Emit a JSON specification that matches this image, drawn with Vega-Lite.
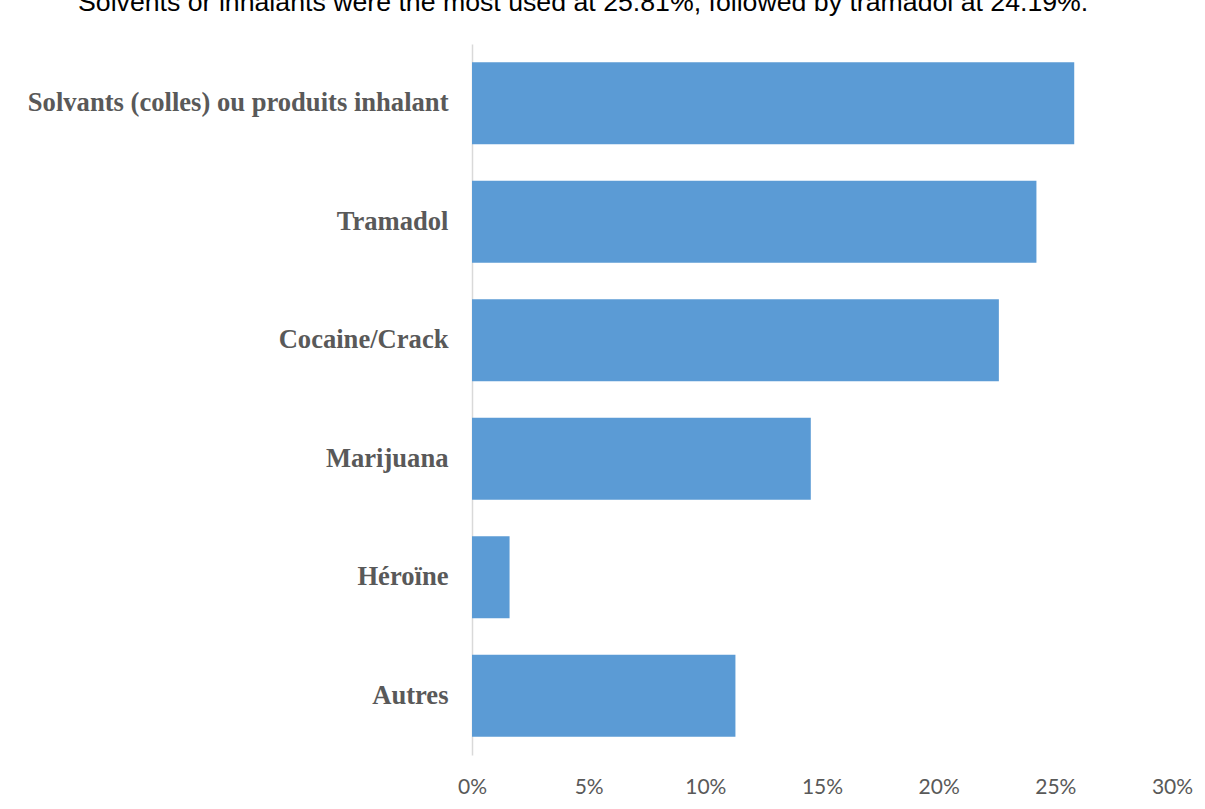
{
  "$schema": "https://vega.github.io/schema/vega-lite/v6.json",
  "autosize": "none",
  "width": 700,
  "height": 711,
  "padding": {"left": 472, "top": 44, "right": 33, "bottom": 54},
  "background": "white",
  "title": {
    "text": "Solvents or inhalants were the most used at 25.81%, followed by tramadol at 24.19%.",
    "anchor": "start",
    "frame": "group",
    "orient": "top",
    "dx": -394,
    "offset": 6,
    "baseline": "alphabetic",
    "font": "Liberation Sans",
    "fontSize": 26.7,
    "fontWeight": "normal",
    "color": "#000000"
  },
  "data": {
    "values": [
      {"substance": "Solvants (colles) ou produits inhalant", "share": 0.2581},
      {"substance": "Tramadol ", "share": 0.2419},
      {"substance": "Cocaine/Crack", "share": 0.2258},
      {"substance": "Marijuana", "share": 0.1452},
      {"substance": "Héroïne", "share": 0.0161},
      {"substance": "Autres", "share": 0.1129}
    ]
  },
  "mark": {"type": "bar", "color": "#5B9BD5"},
  "encoding": {
    "y": {
      "field": "substance",
      "type": "nominal",
      "sort": null,
      "scale": {"paddingInner": 0.31, "paddingOuter": 0.155},
      "axis": {
        "title": null,
        "ticks": false,
        "domainColor": "#D9D9D9",
        "domainWidth": 1.5,
        "labelFont": "Liberation Serif",
        "labelFontSize": 26.6,
        "labelFontWeight": "bold",
        "labelColor": "#595959",
        "labelPadding": 24,
        "labelLimit": 600
      }
    },
    "x": {
      "field": "share",
      "type": "quantitative",
      "scale": {"domain": [0, 0.3], "nice": false},
      "axis": {
        "title": null,
        "format": ".0%",
        "values": [0, 0.05, 0.1, 0.15, 0.2, 0.25, 0.3],
        "grid": false,
        "domain": false,
        "ticks": false,
        "labelFont": "Lato",
        "labelFontSize": 21,
        "labelColor": "#595959",
        "labelPadding": 21,
        "labelFlush": false
      }
    }
  },
  "config": {"view": {"stroke": null}}
}
